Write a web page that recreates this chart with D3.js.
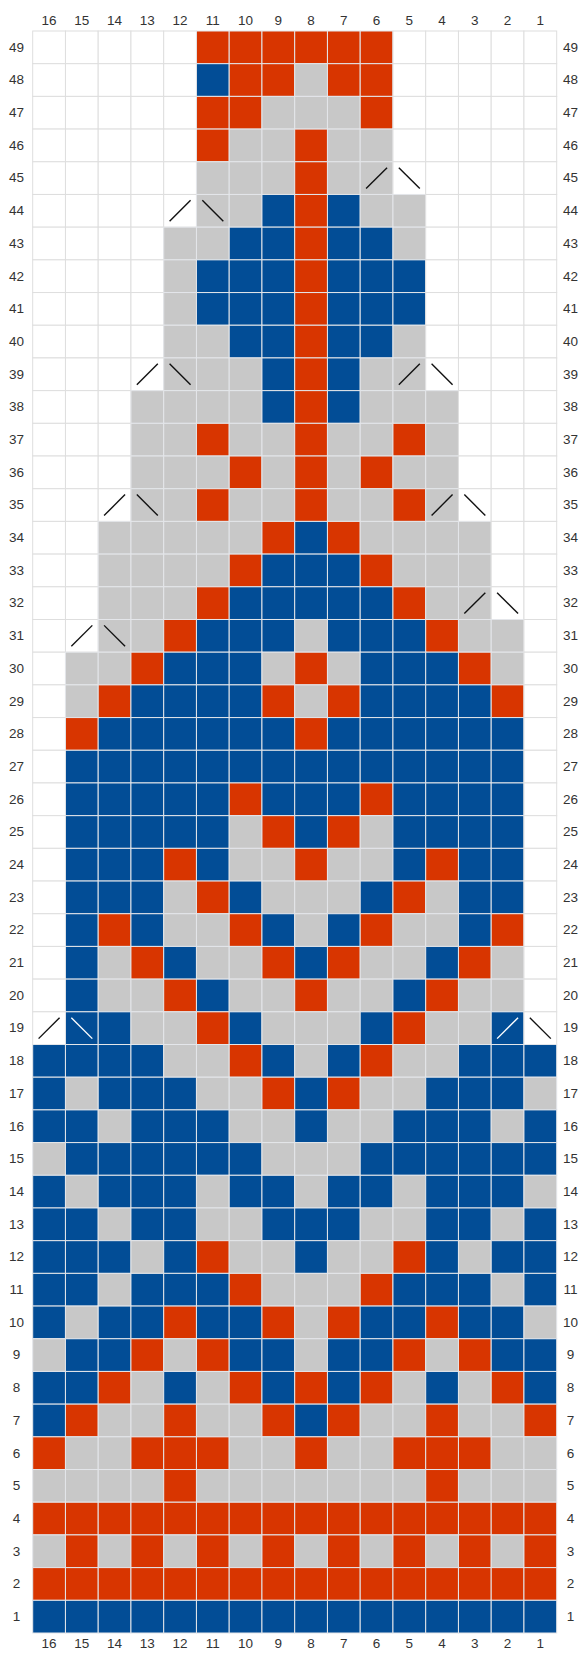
<!DOCTYPE html>
<html>
<head>
<meta charset="utf-8">
<script src="https://cdn.jsdelivr.net/npm/d3@7"></script>
<style>
  body { margin: 0; background: #fff; }
</style>
</head>
<body>
<div id="chart"></div>
<script>
// stitch numbers, left to right as they are printed
const columns = d3.range(16, 0, -1)
// row numbers, top to bottom
const rows = d3.range(49, 0, -1)

// one string per row (49 at the top), col 16 first; . = no stitch
const stitches = [
  ".....RRRRRR.....",
  ".....BRRGRR.....",
  ".....RRGGGR.....",
  ".....RGGRGG.....",
  ".....GGGRGG.....",
  ".....GGBRBGG....",
  "....GGBBRBBG....",
  "....GBBBRBBB....",
  "....GBBBRBBB....",
  "....GGBBRBBG....",
  "....GGGBRBGG....",
  "...GGGGBRBGGG...",
  "...GGRGGRGGRG...",
  "...GGGRGRGRGG...",
  "...GGRGGRGGRG...",
  "..GGGGGRBRGGGG..",
  "..GGGGRBBBRGGG..",
  "..GGGRBBBBBRGG..",
  "..GGRBBBGBBBRGG.",
  ".GGRBBBGRGBBBRG.",
  ".GRBBBBRGRBBBBR.",
  ".RBBBBBBRBBBBBB.",
  ".BBBBBBBBBBBBBB.",
  ".BBBBBRBBBRBBBB.",
  ".BBBBBGRBRGBBBB.",
  ".BBBRBGGRGGBRBB.",
  ".BBBGRBGGGBRGBB.",
  ".BRBGGRBGBRGGBR.",
  ".BGRBGGRBRGGBRG.",
  ".BGGRBGGRGGBRGG.",
  ".BBGGRBGGGBRGGB.",
  "BBBBGGRBGBRGGBBB",
  "BGBBBGGRBRGGBBBG",
  "BBGBBBGGBGGBBBGB",
  "GBBBBBBGGGBBBBBB",
  "BGBBBGBBGBBGBBBG",
  "BBGBBGGBBBGGBBGB",
  "BBBGBRGGBGGRBGBB",
  "BBGBBBRGGGRBBBGB",
  "BGBBRBBRGRBBRBBG",
  "GBBRGRBBGBBRGRBB",
  "BBRGBGRBRBRGBGRB",
  "BRGGRGGRBRGGRGGR",
  "RGGRRRGGRGGRRRGG",
  "GGGGRGGGGGGGRGGG",
  "RRRRRRRRRRRRRRRR",
  "GRGRGRGRGRGRGRGR",
  "RRRRRRRRRRRRRRRR",
  "BBBBBBBBBBBBBBBB"
]

// decrease marks: row, stitch, direction
const decreases = [
  [45, 6, "/"], [45, 5, "\\"],
  [44, 12, "/"], [44, 11, "\\"],
  [39, 13, "/"], [39, 12, "\\"], [39, 5, "/"], [39, 4, "\\"],
  [35, 14, "/"], [35, 13, "\\"], [35, 4, "/"], [35, 3, "\\"],
  [32, 3, "/"], [32, 2, "\\"],
  [31, 15, "/"], [31, 14, "\\"],
  [19, 16, "/"], [19, 15, "\\"], [19, 2, "/"], [19, 1, "\\"]
]

const colours = { ".": "#ffffff", "R": "#d83500", "B": "#024d96", "G": "#c8c8c8" }

const width = 582, height = 1659
const margin = { top: 31, left: 32.7, right: 25.3, bottom: 26 }
const font = "'Liberation Sans', Arial, sans-serif"

const svg = d3.select("#chart").append("svg")
  .attr("width", width)
  .attr("height", height)

const x = d3.scaleBand().domain(columns).range([margin.left, width - margin.right])
const y = d3.scaleBand().domain(rows).range([margin.top, height - margin.bottom])

// flatten into cells
const cells = []
stitches.forEach((s, i) => {
  s.split("").forEach((c, j) => {
    cells.push({ row: rows[i], col: columns[j], c: c })
  })
})
const lookup = new Map(cells.map(d => [d.row + "-" + d.col, d.c]))

svg.append("g").selectAll("rect")
  .data(cells)
  .join("rect")
  .attr("x", d => x(d.col))
  .attr("y", d => y(d.row))
  .attr("width", x.bandwidth())
  .attr("height", y.bandwidth())
  .attr("fill", d => colours[d.c])
  .attr("stroke", d => d.c == "." ? "#dedede" : "#e4e6ea")
  .attr("stroke-width", 1)

// the slanted decrease marks
const a = 0.18, b = 0.82
svg.append("g").selectAll("line")
  .data(decreases)
  .join("line")
  .attr("x1", d => x(d[1]) + a * x.bandwidth())
  .attr("x2", d => x(d[1]) + b * x.bandwidth())
  .attr("y1", d => y(d[0]) + (d[2] == "/" ? b : a) * y.bandwidth())
  .attr("y2", d => y(d[0]) + (d[2] == "/" ? a : b) * y.bandwidth())
  .attr("stroke", d => lookup.get(d[0] + "-" + d[1]) == "B" ? "#ffffff" : "#111")
  .attr("stroke-width", 1.4)

// numbers around the chart
const axisText = (g) => g.call(s => s.select(".domain").remove())
  .call(s => s.selectAll(".tick line").remove())
  .call(s => s.selectAll(".tick text")
    .attr("fill", "#333")
    .attr("text-anchor", "middle")
    .style("font-size", "13.5px")
    .style("font-family", font))

svg.append("g")
  .attr("transform", `translate(0,${margin.top - 6})`)
  .call(d3.axisTop(x).tickSize(0).tickPadding(0))
  .call(axisText)
svg.append("g")
  .attr("transform", `translate(0,${height - margin.bottom + 5})`)
  .call(d3.axisBottom(x).tickSize(0).tickPadding(0))
  .call(axisText)
svg.append("g")
  .attr("transform", `translate(16.5,0)`)
  .call(d3.axisLeft(y).tickSize(0).tickPadding(0))
  .call(axisText)
svg.append("g")
  .attr("transform", `translate(570.5,0)`)
  .call(d3.axisRight(y).tickSize(0).tickPadding(0))
  .call(axisText)
</script>
</body>
</html>
